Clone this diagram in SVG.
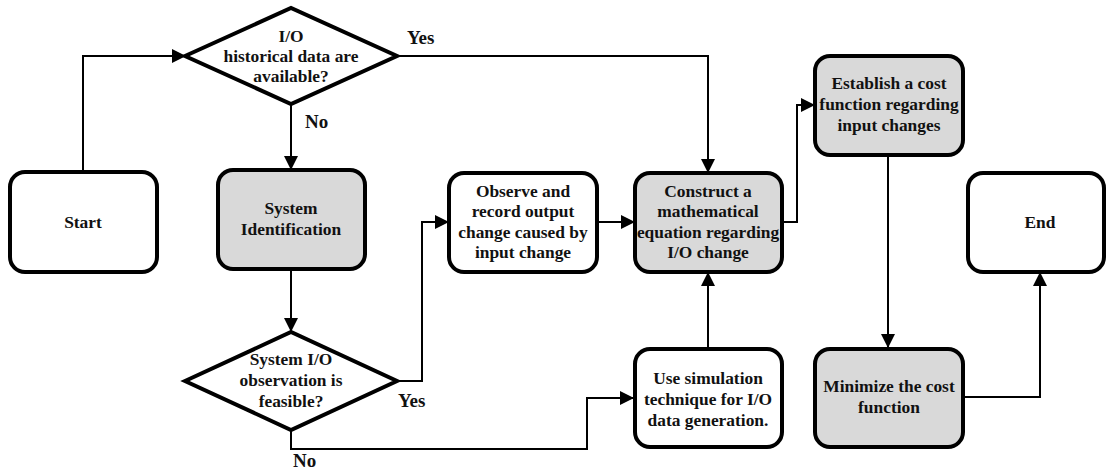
<svg xmlns="http://www.w3.org/2000/svg" width="1107" height="471" viewBox="0 0 1107 471">
  <style>
    .box { fill: #ffffff; stroke: #000000; stroke-width: 4; }
    .box.grey { fill: #d9d9d9; }
    .dia { fill: #ffffff; stroke: #000000; stroke-width: 4; stroke-linejoin: miter; }
    .conn { fill: none; stroke: #000000; stroke-width: 2; marker-end: url(#arrow); }
    text { font-family: "Liberation Serif", "Times New Roman", serif; font-weight: bold; font-size: 17.4px; fill: #111111; text-anchor: middle; }
    .lbl { font-size: 19px; text-anchor: start; }
  </style>
  <defs>
    <marker id="arrow" markerUnits="userSpaceOnUse" markerWidth="14" markerHeight="14" refX="13" refY="7" orient="auto">
      <path d="M0,0 L14,7 L0,14 z" fill="#000000"/>
    </marker>
  </defs>
  <rect width="1107" height="471" fill="#ffffff"/>

  <!-- connectors and branch labels -->
  <g id="connectors">
    <path class="conn" d="M83,172 V56 H185"/>
    <path class="conn" d="M397,56 H708 V172"/>
    <path class="conn" d="M291,104 V169"/>
    <path class="conn" d="M291,269 V331"/>
    <path class="conn" d="M397,381 H422 V222 H448"/>
    <path class="conn" d="M597,222 H634"/>
    <path class="conn" d="M291,430 V449 H587 V398 H633"/>
    <path class="conn" d="M708,348 V273"/>
    <path class="conn" d="M782,222 H797 V105 H814"/>
    <path class="conn" d="M888,155 V347"/>
    <path class="conn" d="M963,397 H1040 V273"/>
    <text class="lbl" x="407" y="44">Yes</text>
    <text class="lbl" x="305" y="128">No</text>
    <text class="lbl" x="398" y="407">Yes</text>
    <text class="lbl" x="293" y="467">No</text>
  </g>

  <g id="start">
    <rect class="box" x="10" y="172" width="147" height="100" rx="15"/>
    <text x="83" y="228">Start</text>
  </g>

  <g id="decision-history">
    <polygon class="dia" points="185,56 291,8 397,56 291,104"/>
    <text x="291" y="42">I/O</text>
    <text x="291" y="62">historical data are</text>
    <text x="291" y="82">available?</text>
  </g>

  <g id="system-identification">
    <rect class="box grey" x="218" y="170" width="147" height="99" rx="15"/>
    <text x="291" y="214">System</text>
    <text x="291" y="235">Identification</text>
  </g>

  <g id="decision-observation">
    <polygon class="dia" points="185,381 291,332 397,381 291,430"/>
    <text x="291" y="365">System I/O</text>
    <text x="291" y="386">observation is</text>
    <text x="291" y="407">feasible?</text>
  </g>

  <g id="observe">
    <rect class="box" x="449" y="173" width="148" height="99" rx="15"/>
    <text x="523" y="197">Observe and</text>
    <text x="523" y="217">record output</text>
    <text x="523" y="238">change caused by</text>
    <text x="523" y="258">input change</text>
  </g>

  <g id="construct">
    <rect class="box grey" x="635" y="173" width="147" height="99" rx="15"/>
    <text x="708" y="197">Construct a</text>
    <text x="708" y="217">mathematical</text>
    <text x="708" y="238">equation regarding</text>
    <text x="708" y="258">I/O change</text>
  </g>

  <g id="simulation">
    <rect class="box" x="635" y="349" width="147" height="98" rx="15"/>
    <text x="708" y="384">Use simulation</text>
    <text x="708" y="405">technique for I/O</text>
    <text x="708" y="426">data generation.</text>
  </g>

  <g id="cost-function">
    <rect class="box grey" x="815" y="56" width="148" height="99" rx="15"/>
    <text x="889" y="89">Establish a cost</text>
    <text x="889" y="110">function regarding</text>
    <text x="889" y="131">input changes</text>
  </g>

  <g id="minimize">
    <rect class="box grey" x="815" y="349" width="148" height="98" rx="15"/>
    <text x="889" y="392">Minimize the cost</text>
    <text x="889" y="413">function</text>
  </g>

  <g id="end">
    <rect class="box" x="968" y="173" width="136" height="99" rx="15"/>
    <text x="1040" y="228">End</text>
  </g>
</svg>
